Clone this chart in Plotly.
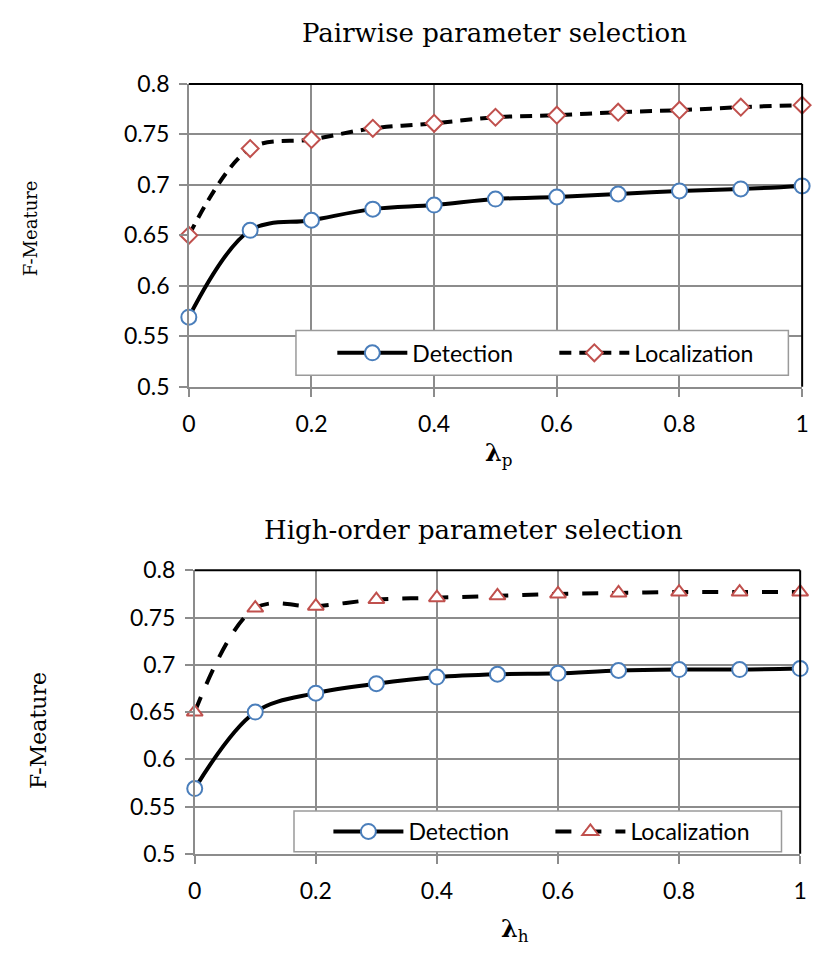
import plotly.graph_objects as go

lam = [0, 0.1, 0.2, 0.3, 0.4, 0.5, 0.6, 0.7, 0.8, 0.9, 1.0]

pw_detection = [0.569, 0.655, 0.665, 0.676, 0.680, 0.686, 0.688, 0.691, 0.694, 0.696, 0.699]
pw_localization = [0.650, 0.736, 0.745, 0.756, 0.761, 0.767, 0.769, 0.772, 0.774, 0.777, 0.779]

ho_detection = [0.569, 0.650, 0.670, 0.680, 0.687, 0.690, 0.691, 0.694, 0.695, 0.695, 0.696]
ho_localization = [0.650, 0.760, 0.762, 0.769, 0.771, 0.773, 0.775, 0.776, 0.777, 0.777, 0.777]

x_ticks = [0, 0.2, 0.4, 0.6, 0.8, 1]
x_tick_text = ["0", "0.2", "0.4", "0.6", "0.8", "1"]
y_ticks = [0.5, 0.55, 0.6, 0.65, 0.7, 0.75, 0.8]
y_tick_text = ["0.5", "0.55", "0.6", "0.65", "0.7", "0.75", "0.8"]

titles = ["Pairwise parameter selection", "High-order parameter selection"]
x_titles = ["<b>λ</b><sub>p</sub>", "<b>λ</b><sub>h</sub>"]
y_title = "F-Meature"

W, H = 817, 960
BLUE = "#4a7ebb"
RED = "#c0504d"
GRID = "#8c8c8c"
SANS = "Lato, Liberation Sans, sans-serif"
TICKFONT = dict(family=SANS, size=23, color="black")
SERIF = "DejaVu Serif, Liberation Serif, serif"

fig = go.Figure()

fig.add_trace(go.Scatter(
    x=lam, y=pw_detection, name="Detection", mode="lines+markers",
    line=dict(color="black", width=4, shape="spline", smoothing=1),
    marker=dict(symbol="circle", size=15, color="white", line=dict(color=BLUE, width=2)),
    cliponaxis=False, xaxis="x", yaxis="y", legend="legend"))
fig.add_trace(go.Scatter(
    x=lam, y=pw_localization, name="Localization", mode="lines+markers",
    line=dict(color="black", width=4, shape="spline", smoothing=1, dash="12px,8px"),
    marker=dict(symbol="diamond", size=13, color="white", line=dict(color=RED, width=2)),
    cliponaxis=False, xaxis="x", yaxis="y", legend="legend"))

fig.add_trace(go.Scatter(
    x=lam, y=ho_detection, name="Detection", mode="lines+markers",
    line=dict(color="black", width=4, shape="spline", smoothing=1),
    marker=dict(symbol="circle", size=15, color="white", line=dict(color=BLUE, width=2)),
    cliponaxis=False, xaxis="x2", yaxis="y2", legend="legend2"))
fig.add_trace(go.Scatter(
    x=lam, y=ho_localization, name="Localization", mode="lines+markers",
    line=dict(color="black", width=4, shape="spline", smoothing=1, dash="16px,14px"),
    marker=dict(symbol="triangle-up", size=14, color="white", line=dict(color=RED, width=2)),
    cliponaxis=False, xaxis="x2", yaxis="y2", legend="legend2"))

def xax(domain, anchor):
    return dict(domain=domain, anchor=anchor, range=[0, 1], tickvals=x_ticks, ticktext=x_tick_text,
                showgrid=True, gridcolor=GRID, gridwidth=1.5, zeroline=False,
                showline=True, linecolor=GRID, linewidth=1.5,
                ticks="outside", ticklen=8, tickcolor=GRID, tickwidth=1.5,
                ticklabelstandoff=8, tickfont=TICKFONT, fixedrange=True)

def yax(domain, anchor):
    return dict(domain=domain, anchor=anchor, range=[0.5, 0.8], tickvals=y_ticks, ticktext=y_tick_text,
                showgrid=True, gridcolor=GRID, gridwidth=1.5, zeroline=False,
                showline=True, linecolor=GRID, linewidth=1.5,
                ticks="outside", ticklen=8, tickcolor=GRID, tickwidth=1.5,
                ticklabelstandoff=5, tickfont=TICKFONT, fixedrange=True)

top_x = [185 / W, 809 / W]
top_y = [1 - 383 / H, 1 - 71 / H]
bot_x = [191 / W, 807 / W]
bot_y = [1 - 864 / H, 1 - 572 / H]

legend_common = dict(orientation="h", bgcolor="rgba(0,0,0,0)", borderwidth=0,
                     font=dict(family=SANS, size=23, color="black"),
                     xanchor="left", yanchor="middle", entrywidth=137, entrywidthmode="pixels",
                     itemwidth=70, tracegroupgap=0)

fig.update_layout(
    width=W, height=H, margin=dict(l=0, r=0, t=0, b=0),
    paper_bgcolor="white", plot_bgcolor="white", showlegend=True,
    xaxis=xax(top_x, "y"), yaxis=yax(top_y, "x"),
    xaxis2=xax(bot_x, "y2"), yaxis2=yax(bot_y, "x2"),
    legend=dict(legend_common, x=331 / W, y=1 - 348 / H),
    legend2=dict(legend_common, x=327 / W, y=1 - 841 / H),
)

# legend boxes
fig.add_shape(type="rect", xref="paper", yref="paper", x0=294 / W, x1=795 / W,
              y0=1 - 371 / H, y1=1 - 325 / H, fillcolor="white",
              line=dict(color="#9a9a9a", width=1.5), layer="above")
fig.add_shape(type="rect", xref="paper", yref="paper", x0=292 / W, x1=788 / W,
              y0=1 - 862 / H, y1=1 - 820 / H, fillcolor="white",
              line=dict(color="#9a9a9a", width=1.5), layer="above")

# black top/right borders of the plot areas
for xr, yr in [("x domain", "y domain"), ("x2 domain", "y2 domain")]:
    fig.add_shape(type="line", xref=xr, yref=yr, x0=0, x1=1, y0=1, y1=1,
                  line=dict(color="black", width=2), layer="above")
    fig.add_shape(type="line", xref=xr, yref=yr, x0=1, x1=1, y0=0, y1=1,
                  line=dict(color="black", width=2), layer="above")

def note(text, xpx, ypx, size, angle=0):
    fig.add_annotation(text=text, x=xpx / W, y=1 - ypx / H, xref="paper", yref="paper",
                       showarrow=False, xanchor="center", yanchor="middle", textangle=angle,
                       font=dict(family=SERIF, size=size, color="black"))

note(titles[0], 496, 19, 26)
note(titles[1], 475, 530, 26)
note(x_titles[0], 501, 452, 24)
note(x_titles[1], 517, 943, 24)
note(y_title, 24, 220, 18, -90)
note(y_title, 32, 737, 22, -90)

fig.write_html("out.html")
